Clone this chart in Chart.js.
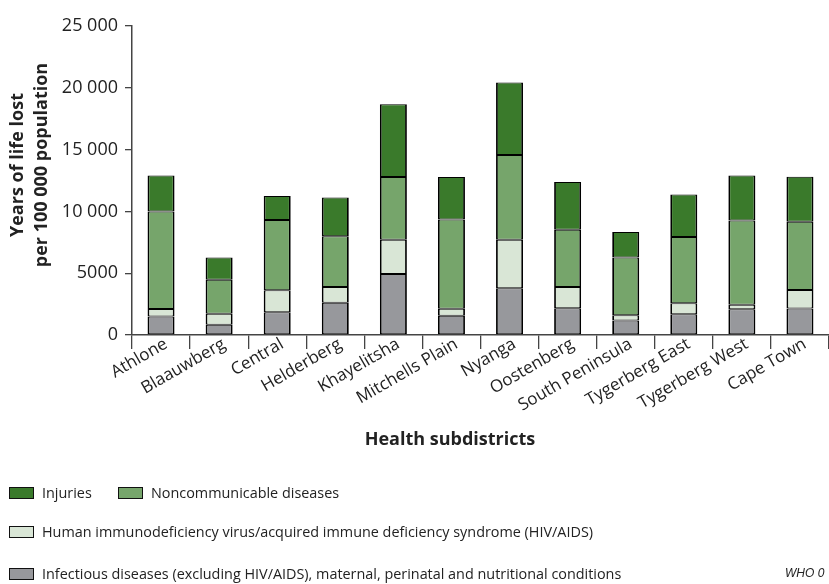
<!DOCTYPE html>
<html>
<head>
<meta charset="utf-8">
<script src="https://cdn.jsdelivr.net/npm/chart.js@4.4.1/dist/chart.umd.min.js"></script>
<style>
    html, body { margin: 0; padding: 0; background: #fff; overflow: hidden; }
    #wrap { position: relative; width: 829px; height: 584px; font-family: 'Open Sans', sans-serif; color: #222; }
    #chart { position: absolute; left: 0; top: 0; }
    .legend-item { position: absolute; display: flex; align-items: center; font-size: 14.4px; white-space: nowrap; }
    .legend-item .box { width: 23px; height: 10px; border: 1.4px solid #111; margin-right: 8px; }
    #source { position: absolute; left: 785px; top: 566px; font-size: 12px; font-style: italic; font-family: 'Liberation Sans', Arial, sans-serif; }
</style>
</head>
<body>
<div id="wrap">
    <canvas id="chart" width="829" height="584"></canvas>
    <div id="legend"></div>
    <div id="source">WHO 0</div>
</div>
<script>
const districts = ['Athlone', 'Blaauwberg', 'Central', 'Helderberg', 'Khayelitsha', 'Mitchells Plain',
    'Nyanga', 'Oostenberg', 'South Peninsula', 'Tygerberg East', 'Tygerberg West', 'Cape Town'];

// years of life lost per 100 000, stacked bottom -> top
const infectious = [1500, 820, 1840, 2600, 4940, 1550, 3780, 2170, 1170, 1680, 2080, 2140];
const hivAids = [600, 890, 1780, 1290, 2770, 570, 3930, 1720, 430, 890, 360, 1510];
const noncommunicable = [7900, 2750, 5680, 4090, 5070, 7230, 6850, 4630, 4680, 5360, 6830, 5520];
const injuries = [2900, 1820, 1940, 3150, 5890, 3430, 5860, 3850, 2060, 3440, 3640, 3630];

const yTickLabels = ['0', '5000', '10 000', '15 000', '20 000', '25 000'];
const yTitle = ['Years of life lost', 'per 100 000 population'];
const xTitle = 'Health subdistricts';

const colors = {
    injuries: '#3a7a2b',
    ncd: '#76a56b',
    hiv: '#d9e6d6',
    infectious: '#97989c',
    axis: '#444',
    text: '#222'
};

const series = [
    { label: 'Infectious diseases (excluding HIV/AIDS), maternal, perinatal and nutritional conditions', data: infectious, color: colors.infectious },
    { label: 'Human immunodeficiency virus/acquired immune deficiency syndrome (HIV/AIDS)', data: hivAids, color: colors.hiv },
    { label: 'Noncommunicable diseases', data: noncommunicable, color: colors.ncd },
    { label: 'Injuries', data: injuries, color: colors.injuries }
];

Chart.defaults.font.family = "'Open Sans', sans-serif";
Chart.defaults.color = colors.text;

// axis titles sit a bit off-centre in the original, so draw them by hand
const axisTitles = {
    id: 'axisTitles',
    afterDraw(chart) {
        const ctx = chart.ctx;
        ctx.save();
        ctx.fillStyle = colors.text;
        ctx.font = "bold 18px 'Open Sans', sans-serif";
        ctx.textAlign = 'center';
        ctx.textBaseline = 'middle';
        ctx.fillText(xTitle, 450, 440);
        ctx.translate(18, 165);
        ctx.rotate(-Math.PI / 2);
        yTitle.forEach((line, i) => ctx.fillText(line, 0, i * 24));
        ctx.restore();
    }
};

new Chart(document.getElementById('chart'), {
    type: 'bar',
    data: {
        labels: districts,
        datasets: series.map(s => ({
            label: s.label,
            data: s.data,
            backgroundColor: s.color,
            borderColor: '#000',
            borderWidth: { left: 1.8, right: 1.8, top: 1, bottom: 1 },
            borderSkipped: false,
            categoryPercentage: 1,
            barPercentage: 0.465
        }))
    },
    options: {
        responsive: false,
        animation: false,
        layout: { padding: { top: 26, left: 0, right: 0, bottom: 133 } },
        plugins: { legend: { display: false }, tooltip: { enabled: false } },
        scales: {
            x: {
                stacked: true,
                afterFit: scale => { scale.height = 116; },
                grid: { drawOnChartArea: false, tickLength: 14, color: colors.axis, lineWidth: 1.3 },
                border: { color: colors.axis, width: 1.5 },
                ticks: { minRotation: 30, maxRotation: 30, padding: -15, labelOffset: 5, font: { size: 17 }, color: colors.text }
            },
            y: {
                stacked: true,
                min: 0,
                max: 25000,
                afterFit: scale => { scale.width = 132; },
                grid: { drawOnChartArea: false, tickLength: 7, color: colors.axis, lineWidth: 1.3 },
                border: { color: colors.axis, width: 1.5 },
                ticks: {
                    stepSize: 5000,
                    padding: 7,
                    font: { size: 18 },
                    color: colors.text,
                    callback: (v, i) => yTickLabels[i]
                }
            }
        }
    },
    plugins: [axisTitles]
});

// Legend laid out in three rows like the original
const legendRows = [
    { top: 487, items: [{ s: series[3], left: 9 }, { s: series[2], left: 118 }] },
    { top: 526, items: [{ s: series[1], left: 9 }] },
    { top: 568, items: [{ s: series[0], left: 9 }] }
];
const legend = document.getElementById('legend');
legendRows.forEach(row => {
    row.items.forEach(item => {
        const div = document.createElement('div');
        div.className = 'legend-item';
        div.style.left = item.left + 'px';
        div.style.top = (row.top - 4) + 'px';
        div.innerHTML = `<span class="box" style="background:${item.s.color}"></span><span>${item.s.label}</span>`;
        legend.appendChild(div);
    });
});
</script>
</body>
</html>
